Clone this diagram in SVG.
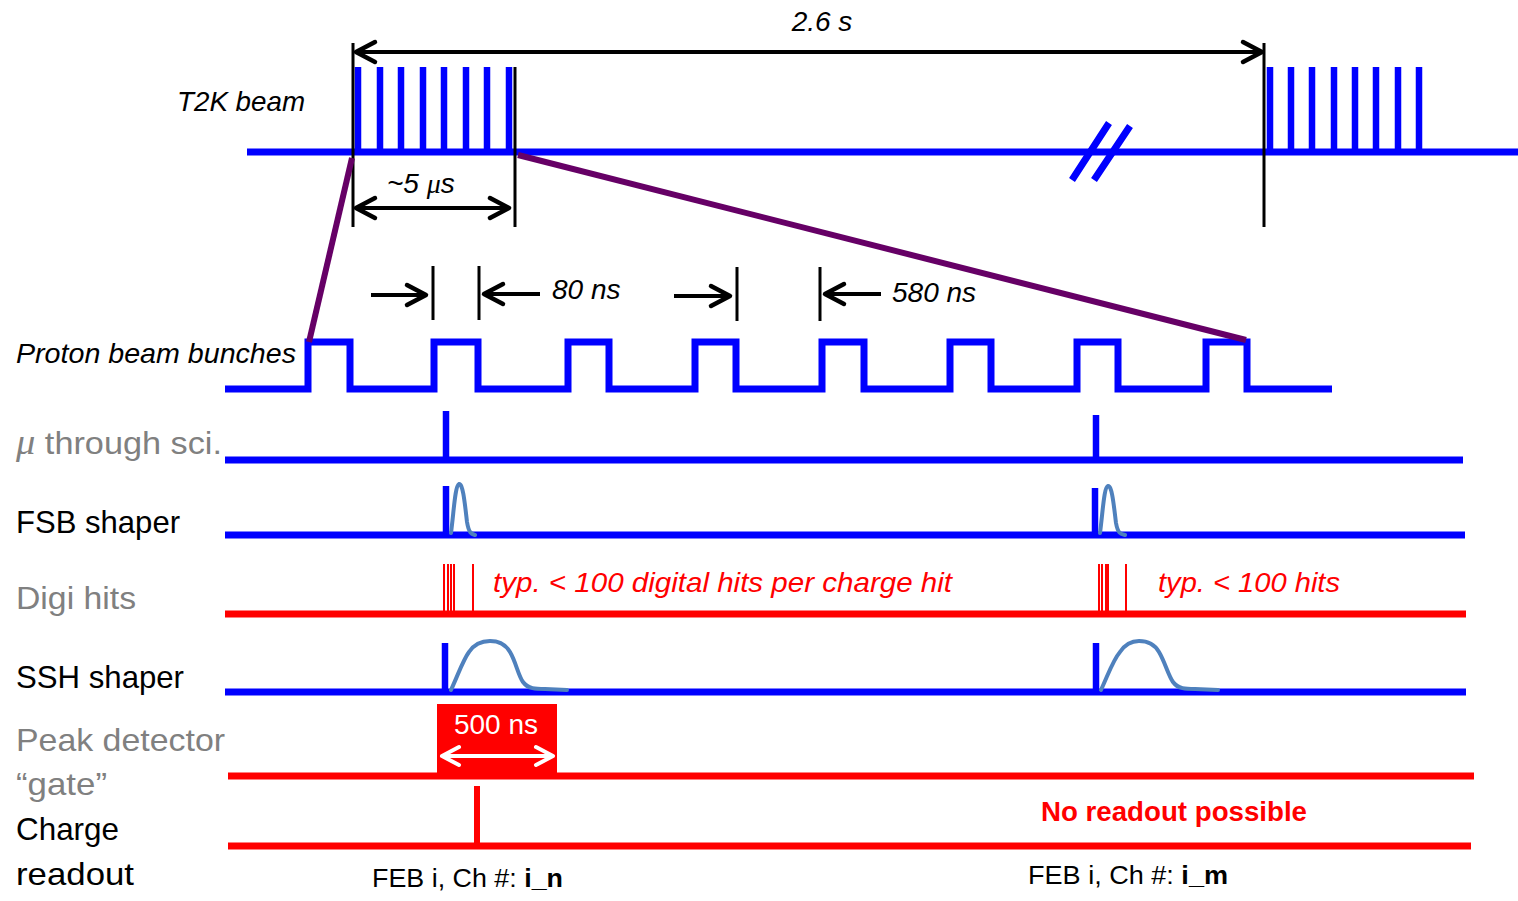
<svg xmlns="http://www.w3.org/2000/svg" width="1518" height="901" viewBox="0 0 1518 901">
<style>
  .bl{stroke:#0000FF;stroke-width:7;fill:none}
  .bar{stroke:#0000FF;stroke-width:6.5;fill:none}
  .rd{stroke:#FF0000;stroke-width:7;fill:none}
  .thin{stroke:#FF0000;stroke-width:2;fill:none}
  .pulse{stroke:#4F81BD;stroke-width:4;fill:none;stroke-linejoin:round;stroke-linecap:round}
  .vk{stroke:#000;stroke-width:3;fill:none}
  .ar{stroke:#000;stroke-width:4;fill:none}
  .zoom{stroke:#660066;stroke-width:6;fill:none}
  text{font-family:"Liberation Sans",Arial,sans-serif}
  .it{font-style:italic;font-size:28px;fill:#000}
  .lab{font-size:32px;fill:#000}
  .gray{fill:#808080}
  .red{fill:#FF0000}
</style>
<defs>
  <marker id="ah" markerUnits="userSpaceOnUse" markerWidth="30" markerHeight="30" viewBox="-24 -15 30 30" refX="0" refY="0" orient="auto-start-reverse">
    <path d="M-19,-10 L0,0 L-19,10" fill="none" stroke="#000" stroke-width="4.5" stroke-linecap="round" stroke-linejoin="round"/>
  </marker>
  <marker id="ahw" markerUnits="userSpaceOnUse" markerWidth="30" markerHeight="30" viewBox="-24 -15 30 30" refX="0" refY="0" orient="auto-start-reverse">
    <path d="M-17,-9 L0,0 L-17,9" fill="none" stroke="#FFF" stroke-width="4" stroke-linecap="round" stroke-linejoin="round"/>
  </marker>
</defs>

<!-- T2K beam row -->
<g id="t2k-beam">
  <text class="it" x="177" y="111" textLength="128" lengthAdjust="spacingAndGlyphs">T2K beam</text>
  <line class="bl" x1="247" y1="152" x2="1518" y2="152"/>
  <path class="bar" d="M358,67V152 M380,67V152 M401,67V152 M423,67V152 M444,67V152 M466,67V152 M487,67V152 M509,67V152"/>
  <path class="bar" d="M1270,67V152 M1291,67V152 M1312,67V152 M1334,67V152 M1355,67V152 M1376,67V152 M1398,67V152 M1419,67V152"/>
  <path d="M1072,180 L1109,123 M1094,180 L1130,126" stroke="#0000FF" stroke-width="7" fill="none"/>
  <line class="vk" x1="353" y1="43" x2="353" y2="227"/>
  <line class="vk" x1="515" y1="67" x2="515" y2="227"/>
  <line class="vk" x1="1264" y1="43" x2="1264" y2="227"/>
  <text class="it" x="822" y="31" text-anchor="middle" font-size="27">2.6 s</text>
  <text class="it" x="387" y="193" font-size="27">~5 <tspan font-family="Liberation Serif">μ</tspan>s</text>
</g>

<!-- Proton beam bunches -->
<g id="proton-bunches">
  <text class="it" x="16" y="363" textLength="280" lengthAdjust="spacingAndGlyphs">Proton beam bunches</text>
  <path class="bl" d="M225,389 H308 V342 H350 V389 H434 V342 H478 V389 H568 V342 H609 V389 H695 V342 H736 V389 H822 V342 H864 V389 H950 V342 H991 V389 H1077 V342 H1118 V389 H1206 V342 H1247 V389 H1332"/>
  <line class="vk" x1="433" y1="266" x2="433" y2="320"/>
  <line class="vk" x1="479" y1="266" x2="479" y2="320"/>
  <line class="vk" x1="737" y1="267" x2="737" y2="321"/>
  <line class="vk" x1="820" y1="267" x2="820" y2="321"/>
  <text class="it" x="552" y="299">80 ns</text>
  <text class="it" x="892" y="302">580 ns</text>
</g>

<!-- mu through sci -->
<g id="mu-sci">
  <text class="lab gray" x="16" y="454" textLength="206" lengthAdjust="spacingAndGlyphs"><tspan font-family="Liberation Serif" font-style="italic" font-size="36">μ</tspan> through sci.</text>
  <line class="bl" x1="225" y1="460" x2="1463" y2="460"/>
  <line class="bar" x1="446" y1="411" x2="446" y2="460"/>
  <line class="bar" x1="1096" y1="415" x2="1096" y2="460"/>
</g>

<!-- FSB shaper -->
<g id="fsb-shaper">
  <text class="lab" x="16" y="533" textLength="164" lengthAdjust="spacingAndGlyphs">FSB shaper</text>
  <line class="bl" x1="225" y1="535" x2="1465" y2="535"/>
  <line class="bar" x1="446" y1="486" x2="446" y2="535"/>
  <path class="pulse" d="M451,533 C454,510 455,486 459,484 C463,483 465,505 467,522 C469,534 472,534 475,535"/>
  <line class="bar" x1="1095" y1="488" x2="1095" y2="535"/>
  <path class="pulse" d="M1100,533 C1103,510 1104,487 1108,486 C1112,485 1114,507 1116,523 C1118,534 1121,534 1125,535"/>
</g>

<!-- Digi hits -->
<g id="digi-hits">
  <text class="lab gray" x="16" y="609" textLength="120" lengthAdjust="spacingAndGlyphs">Digi hits</text>
  <line class="rd" x1="225" y1="614" x2="1466" y2="614"/>
  <path class="thin" d="M444,564V614 M448,564V614 M451,564V614 M454,564V614 M473,564V614"/>
  <path class="thin" d="M1099,564V614 M1102,564V614 M1106,564V614 M1108,564V614 M1126,564V614"/>
  <text class="it red" x="493" y="592" textLength="459" lengthAdjust="spacingAndGlyphs">typ. &lt; 100 digital hits per charge hit</text>
  <text class="it red" x="1158" y="592" textLength="182" lengthAdjust="spacingAndGlyphs">typ. &lt; 100 hits</text>
</g>

<!-- SSH shaper -->
<g id="ssh-shaper">
  <text class="lab" x="16" y="688" textLength="168" lengthAdjust="spacingAndGlyphs">SSH shaper</text>
  <line class="bl" x1="225" y1="692" x2="1466" y2="692"/>
  <line class="bar" x1="445" y1="643" x2="445" y2="692"/>
  <path class="pulse" d="M451,690 C458,675 463,660 469,652 C475,643 482,641 490,641 C500,641 506,645 510,652 C516,662 518,675 523,682 C528,689 536,689 545,689 L567,690"/>
  <line class="bar" x1="1096" y1="643" x2="1096" y2="692"/>
  <path class="pulse" d="M1101,690 C1108,675 1113,660 1120,652 C1126,643 1132,641 1139,641 C1149,641 1155,645 1159,652 C1165,662 1168,675 1173,682 C1178,689 1186,689 1195,689 L1218,690"/>
</g>

<!-- Peak detector gate -->
<g id="peak-gate">
  <text class="lab gray" x="16" y="751" textLength="209" lengthAdjust="spacingAndGlyphs">Peak detector</text>
  <text class="lab gray" x="16" y="795" textLength="91" lengthAdjust="spacingAndGlyphs">“gate”</text>
  <line class="rd" x1="228" y1="776" x2="1474" y2="776"/>
  <rect x="437" y="704" width="120" height="72" fill="#FF0000"/>
  <text x="496" y="734" text-anchor="middle" font-size="28" fill="#FFF">500 ns</text>
  <line x1="442" y1="756" x2="553" y2="756" stroke="#FFF" stroke-width="4" marker-start="url(#ahw)" marker-end="url(#ahw)"/>
</g>

<!-- Charge readout -->
<g id="charge-readout">
  <text class="lab" x="16" y="840" textLength="103" lengthAdjust="spacingAndGlyphs">Charge</text>
  <text class="lab" x="16" y="885" textLength="118" lengthAdjust="spacingAndGlyphs">readout</text>
  <line class="rd" x1="228" y1="846" x2="1471" y2="846"/>
  <line stroke="#FF0000" stroke-width="6" x1="477" y1="786" x2="477" y2="846"/>
  <text x="1041" y="821" font-size="27" font-weight="bold" fill="#FF0000" textLength="266" lengthAdjust="spacingAndGlyphs">No readout possible</text>
  <text x="372" y="887" font-size="26" fill="#000" textLength="191" lengthAdjust="spacingAndGlyphs">FEB i, Ch #: <tspan font-weight="bold">i_n</tspan></text>
  <text x="1028" y="884" font-size="26" fill="#000" textLength="200" lengthAdjust="spacingAndGlyphs">FEB i, Ch #: <tspan font-weight="bold">i_m</tspan></text>
</g>

<!-- connectors: zoom lines and dimension arrows -->
<g id="connectors">
  <line class="zoom" x1="352" y1="158" x2="309" y2="342"/>
  <line class="zoom" x1="518" y1="155" x2="1246" y2="340"/>
  <line class="ar" x1="356" y1="52" x2="1262" y2="52" marker-start="url(#ah)" marker-end="url(#ah)"/>
  <line class="ar" x1="356" y1="208" x2="509" y2="208" marker-start="url(#ah)" marker-end="url(#ah)"/>
  <line class="ar" x1="371" y1="295" x2="426" y2="295" marker-end="url(#ah)"/>
  <line class="ar" x1="540" y1="294" x2="484" y2="294" marker-end="url(#ah)"/>
  <line class="ar" x1="674" y1="296" x2="730" y2="296" marker-end="url(#ah)"/>
  <line class="ar" x1="881" y1="294" x2="825" y2="294" marker-end="url(#ah)"/>
</g>
</svg>
